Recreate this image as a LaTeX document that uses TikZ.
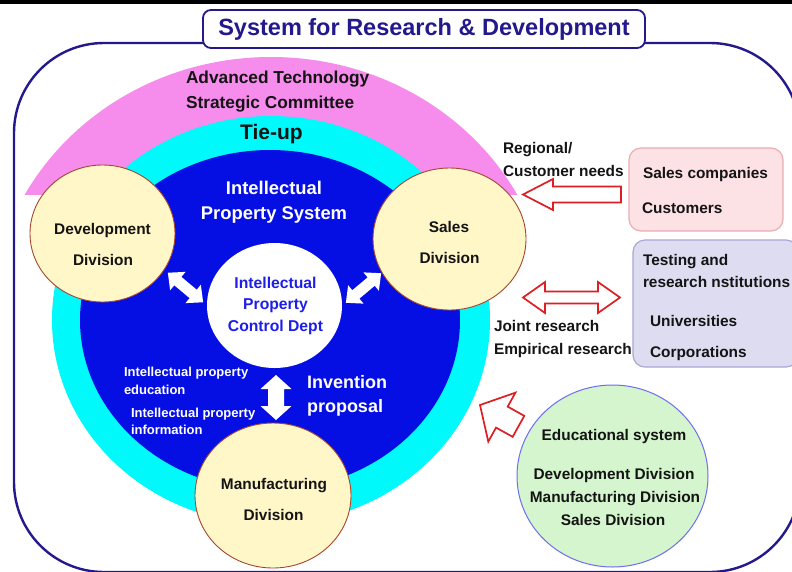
\documentclass[tikz,border=0pt]{standalone}
\usepackage{fontspec}
\setmainfont{Liberation Sans}
\usetikzlibrary{shapes.geometric}
\definecolor{navy}{RGB}{35,25,140}
\definecolor{pinkring}{RGB}{246,140,236}
\definecolor{cyanring}{RGB}{0,250,252}
\definecolor{bluecore}{RGB}{5,15,228}
\definecolor{divfill}{RGB}{255,247,200}
\definecolor{divline}{RGB}{165,70,45}
\definecolor{greenfill}{RGB}{212,245,205}
\definecolor{greenline}{RGB}{110,110,240}
\definecolor{pinkbox}{RGB}{252,226,228}
\definecolor{pinkline}{RGB}{236,172,178}
\definecolor{lavbox}{RGB}{222,220,240}
\definecolor{lavline}{RGB}{172,166,212}
\definecolor{redarrow}{RGB}{222,30,35}
\definecolor{ipblue}{RGB}{30,30,235}
\definecolor{txt}{RGB}{20,20,20}
\begin{document}
\begin{tikzpicture}[x=1pt,y=-1pt,
  every node/.style={inner sep=0pt,outer sep=0pt},
  lab/.style={font=\fontsize{15.4}{18}\selectfont\bfseries,text=txt,anchor=base},
  labw/.style={lab,anchor=base west},
  sz/.style={font=\fontsize{#1}{#1}\selectfont\bfseries},
  division/.style={ellipse,draw=divline,line width=0.9pt,fill=divfill},
  redblock/.style={draw=redarrow,line width=1.7pt,fill=white,line join=miter},
  dblarrow/.pic={\fill[white] (-23,0) -- (-10,-12) -- (-10,-5.5) -- (10,-5.5) -- (10,-12) -- (23,0) -- (10,12) -- (10,5.5) -- (-10,5.5) -- (-10,12) -- cycle;},
  bigdblarrow/.pic={\fill[white] (-22.5,0) -- (-8.5,-15.5) -- (-8.5,-8) -- (8.5,-8) -- (8.5,-15.5) -- (22.5,0) -- (8.5,15.5) -- (8.5,8) -- (-8.5,8) -- (-8.5,15.5) -- cycle;}
]
\useasboundingbox (0,0) rectangle (792,571);
\clip (0,0) rectangle (792,571);
\fill[white] (0,0) rectangle (792,571);
\fill[black] (0,0) rectangle (792,3.5);

% outer frame
\node[draw=navy,line width=2.4pt,rounded corners=90pt,minimum width=786pt,minimum height=529pt] (frame) at (407,307.5) {};

% concentric rings
\begin{scope}
  \clip (0,0) rectangle (792,194);
  \fill[pinkring] (271,320) ellipse [x radius=280pt,y radius=263pt];
\end{scope}
\fill[cyanring] (271,320) ellipse [x radius=219pt,y radius=204pt];
\fill[bluecore] (270,320) ellipse [x radius=190pt,y radius=170pt];

% title
\node[draw=navy,line width=1.8pt,fill=white,rounded corners=8pt,minimum width=442pt,minimum height=38pt] (titlebox) at (424,29) {};
\node[lab,sz=23.5,text=navy] (title) at (424,35) {System for Research \& Development};

% ring labels
\node[labw,sz=17.3] (adv1) at (186,83) {Advanced Technology};
\node[labw,sz=17.3] (adv2) at (186,108) {Strategic Committee};
\node[lab,sz=21] (tie) at (271.5,139) {Tie-up};
\node[lab,sz=18.4,text=white] (ips1) at (274,194) {Intellectual};
\node[lab,sz=18.4,text=white] (ips2) at (274,219) {Property System};

% IP control dept
\node[ellipse,fill=white,minimum width=135pt,minimum height=125pt] (ipc) at (274.5,305.5) {};
\node[lab,sz=15.7,text=ipblue] (ipc1) at (275.5,288) {Intellectual};
\node[lab,sz=15.7,text=ipblue] (ipc2) at (275.5,309) {Property};
\node[lab,sz=15.7,text=ipblue] (ipc3) at (275.5,331) {Control Dept};

% white arrows
\pic[rotate=-40] at (185.5,287.5) {dblarrow};
\pic[rotate=40] at (363.5,288) {dblarrow};
\pic[rotate=90] at (276,397.5) {bigdblarrow};

% small white texts
\node[labw,sz=13,text=white] (ed1) at (124,376.5) {Intellectual property};
\node[labw,sz=13,text=white] (ed2) at (124,394.5) {education};
\node[labw,sz=13,text=white] (in1) at (131,417.5) {Intellectual property};
\node[labw,sz=13,text=white] (in2) at (131,434.5) {information};
\node[labw,sz=18,text=white] (inv1) at (307,388) {Invention};
\node[labw,sz=18,text=white] (inv2) at (307,412) {proposal};

% divisions
\node[division,minimum width=145pt,minimum height=137pt] (dev) at (102.5,233.5) {};
\node[lab] (devt1) at (102.5,234) {Development};
\node[lab] (devt2) at (103,265) {Division};
\node[division,minimum width=153pt,minimum height=142pt] (sales) at (449.5,239) {};
\node[lab] (salt1) at (449,232) {Sales};
\node[lab] (salt2) at (449.5,263) {Division};
\node[division,minimum width=156pt,minimum height=145pt] (manu) at (273,495.5) {};
\node[lab] (mant1) at (274,489) {Manufacturing};
\node[lab] (mant2) at (273.5,520) {Division};

% external boxes
\node[draw=pinkline,line width=1.2pt,fill=pinkbox,rounded corners=12pt,minimum width=154pt,minimum height=83pt] (custbox) at (706,189.5) {};
\node[labw] (cb1) at (643,178) {Sales companies};
\node[labw] (cb2) at (642,213) {Customers};
\node[draw=lavline,line width=1.2pt,fill=lavbox,rounded corners=12pt,minimum width=165pt,minimum height=127pt] (resbox) at (715.5,303.5) {};
\node[labw] (rb1) at (643,265) {Testing and};
\node[labw] (rb2) at (643,287) {research nstitutions};
\node[labw] (rb3) at (650,326) {Universities};
\node[labw] (rb4) at (650,357) {Corporations};

% red arrows and labels
\draw[redblock] (523,194.5) -- (553,179) -- (553,186.5) -- (621,186.5) -- (621,202.5) -- (553,202.5) -- (553,210) -- cycle;
\node[labw] (rg1) at (503,153) {Regional/};
\node[labw] (rg2) at (503,176) {Customer needs};
\draw[redblock] (523,297.5) -- (545,282) -- (545,291.5) -- (598,291.5) -- (598,282) -- (620,297.5) -- (598,313) -- (598,303.5) -- (545,303.5) -- (545,313) -- cycle;
\node[labw] (jr1) at (494,331) {Joint research};
\node[labw] (jr2) at (494,354) {Empirical research};
\begin{scope}[shift={(480,405)},rotate=-29]
  \draw[redblock] (0,0) -- (25,-28) -- (25,-12) -- (44,-12) -- (44,12) -- (25,12) -- (25,28) -- cycle;
\end{scope}

% education circle
\node[ellipse,draw=greenline,line width=1pt,fill=greenfill,minimum width=191pt,minimum height=182pt] (edu) at (612.5,476) {};
\node[lab] (edt1) at (614,440) {Educational system};
\node[lab] (edt2) at (614,479) {Development Division};
\node[lab] (edt3) at (615,502) {Manufacturing Division};
\node[lab] (edt4) at (613,525) {Sales Division};
\end{tikzpicture}
\end{document}
